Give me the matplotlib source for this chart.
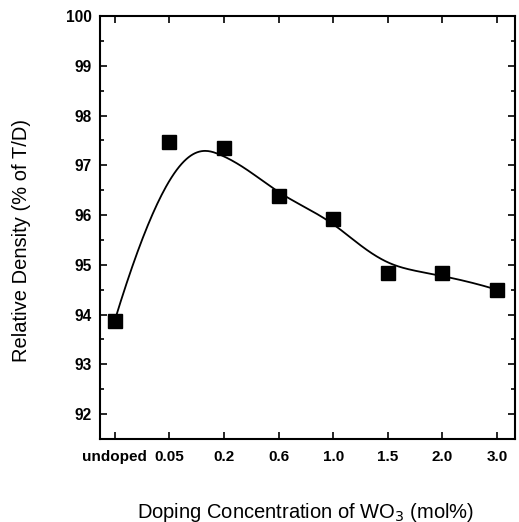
import numpy as np
import matplotlib
matplotlib.use("Agg")
import matplotlib.pyplot as plt
from matplotlib.ticker import MultipleLocator

categories = ["undoped", "0.05", "0.2", "0.6", "1.0", "1.5", "2.0", "3.0"]
density = [93.88, 97.47, 97.35, 96.38, 95.92, 94.83, 94.83, 94.50]

plt.rcParams['font.family'] = ['Liberation Sans', 'DejaVu Sans']

def bspline(px, py, n=400, k=3):
    m = len(px)
    inner = np.arange(1, m - k)
    knots = np.concatenate([np.zeros(k + 1), inner, np.full(k + 1, m - k)]).astype(float)
    ts = np.linspace(0, m - k, n)
    ts[-1] -= 1e-9
    P = np.column_stack([px, py])
    out = []
    for t in ts:
        j = np.searchsorted(knots, t, side='right') - 1
        d = [P[j - k + r].copy() for r in range(k + 1)]
        for r in range(1, k + 1):
            for i in range(k, r - 1, -1):
                a = (t - knots[j - k + i]) / (knots[j + 1 + i - r] - knots[j - k + i])
                d[i] = (1 - a) * d[i - 1] + a * d[i]
        out.append(d[k])
    out = np.array(out)
    return out[:, 0], out[:, 1]

x = np.arange(len(categories))
cx, cy = bspline(x.astype(float), np.array(density))

fig = plt.figure(figsize=(5.19, 5.22), dpi=100)
ax = fig.add_axes([100/519, 1 - 439/522, 415/519, 423/522])
ax.plot(cx, cy, color='black', lw=1.3)
ax.plot(x, density, 's', color='black', markersize=10)

ax.set_xlim(-0.27, 7.33)
ax.set_ylim(91.5, 100)
ax.set_xticks(x)
ax.set_xticklabels(categories, fontweight='bold', fontsize=11)
ax.set_yticks(np.arange(92, 101, 1))
ax.yaxis.set_minor_locator(MultipleLocator(0.5))
for lab in ax.get_yticklabels():
    lab.set_fontweight('bold')
    lab.set_fontsize(11.2)
ax.tick_params(which='both', direction='in', top=True, right=True, width=1.2)
ax.tick_params(which='major', length=5)
ax.tick_params(which='minor', length=3)
ax.tick_params(axis='x', pad=8)
ax.tick_params(axis='y', pad=6)
for s in ax.spines.values():
    s.set_linewidth(1.5)

fig.text(22/519, 1 - 240/522, "Relative Density (% of T/D)", fontsize=14.5,
         rotation=90, ha='center', va='center')
fig.text(305/519, 1 - 512/522, "Doping Concentration of WO$_3$ (mol%)", fontsize=14.5,
         ha='center', va='center')

fig.savefig("out.png", dpi=100)
